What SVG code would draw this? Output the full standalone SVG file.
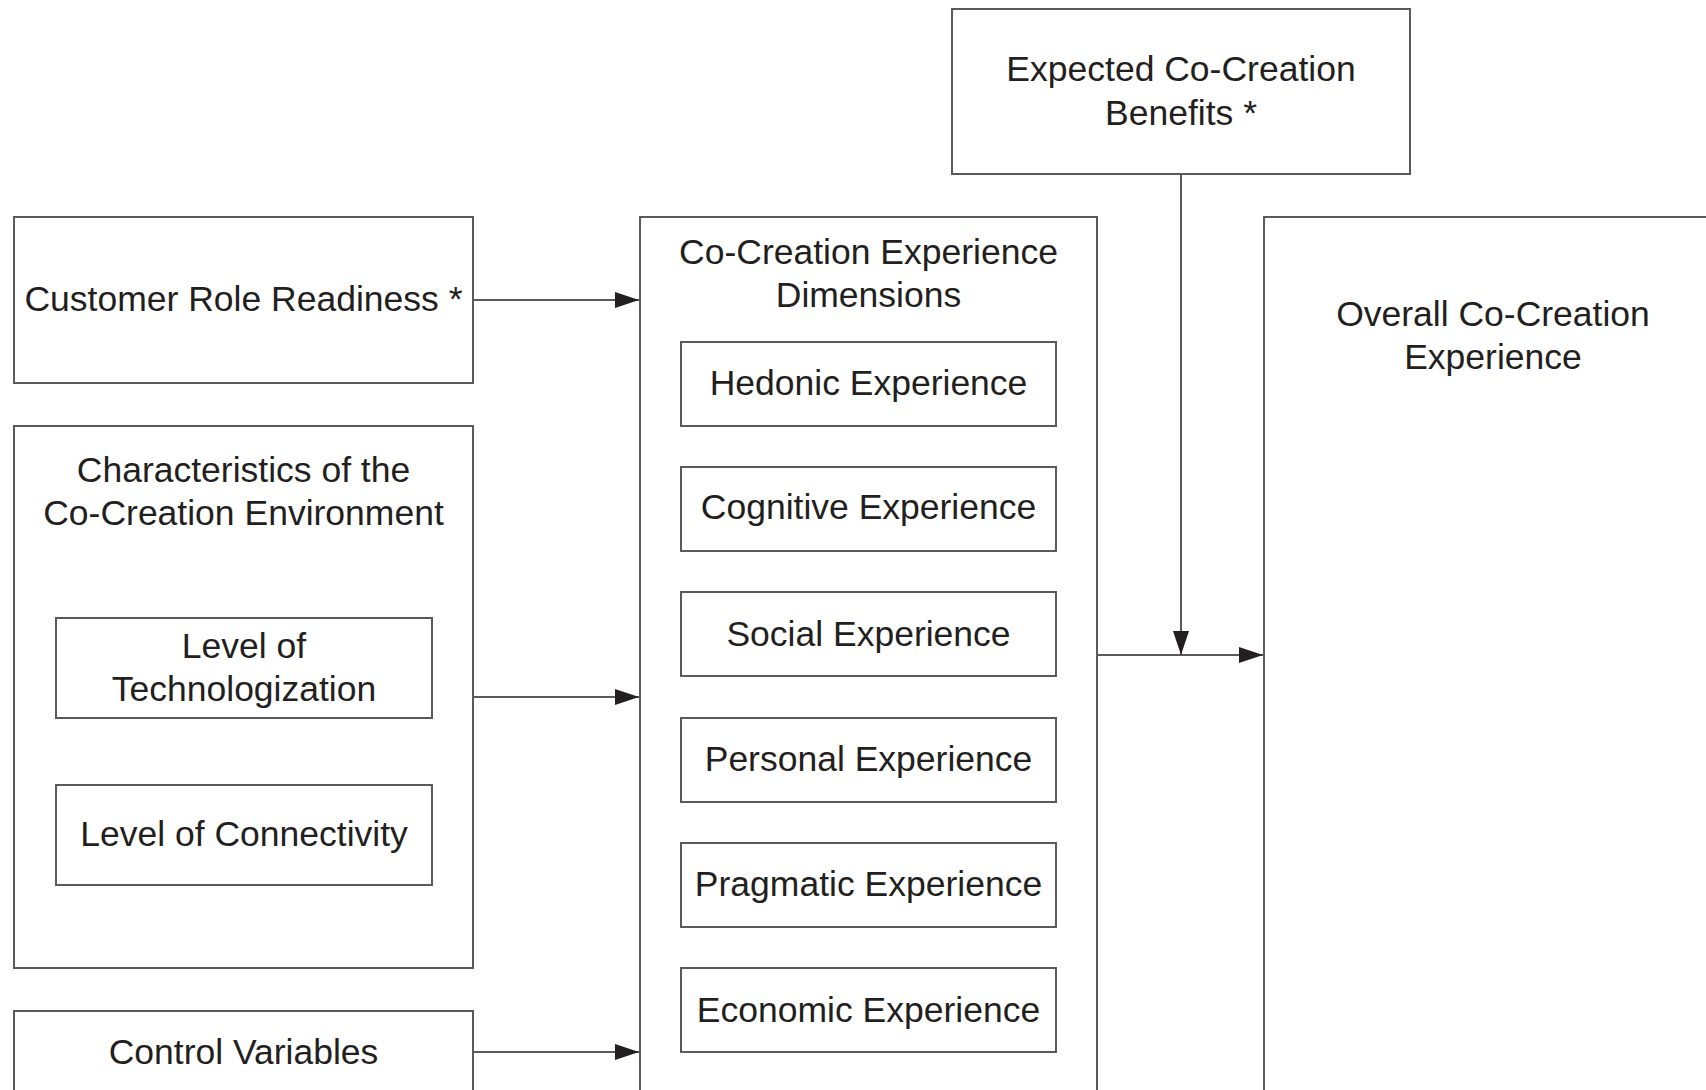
<svg xmlns="http://www.w3.org/2000/svg" width="1706" height="1090" viewBox="0 0 1706 1090">
<style>
.box{fill:#fff;stroke:#5a5a5a;stroke-width:2}
.t{font-family:"Liberation Sans",Arial,Helvetica,sans-serif;font-size:35.5px;fill:#231f20;text-anchor:middle}
.c{fill:none;stroke:#5a5a5a;stroke-width:2}
</style>
<defs>
<marker id="ah" viewBox="0 0 24 16" refX="24" refY="8" markerWidth="24" markerHeight="16" markerUnits="userSpaceOnUse" orient="auto">
<path d="M0,0 L24,8 L0,16 Z" fill="#231f20"/>
</marker>
</defs>
<rect width="1706" height="1090" fill="#fff"/>

<g id="expected-benefits">
<rect class="box" x="952" y="9" width="458" height="165"/>
<text class="t" x="1181" y="81">Expected Co-Creation</text>
<text class="t" x="1181" y="125">Benefits *</text>
</g>

<g id="customer-role-readiness">
<rect class="box" x="14" y="217" width="459" height="166"/>
<text class="t" x="243.5" y="311">Customer Role Readiness *</text>
</g>

<g id="characteristics-environment">
<rect class="box" x="14" y="426" width="459" height="542"/>
<text class="t" x="243.5" y="482">Characteristics of the</text>
<text class="t" x="243.5" y="525">Co-Creation Environment</text>
</g>

<g id="level-technologization">
<rect class="box" x="56" y="618" width="376" height="100"/>
<text class="t" x="244" y="658">Level of</text>
<text class="t" x="244" y="701">Technologization</text>
</g>

<g id="level-connectivity">
<rect class="box" x="56" y="785" width="376" height="100"/>
<text class="t" x="244" y="846">Level of Connectivity</text>
</g>

<g id="control-variables">
<rect class="box" x="14" y="1011" width="459" height="100"/>
<text class="t" x="243.5" y="1064">Control Variables</text>
</g>

<g id="dimensions">
<rect class="box" x="640" y="217" width="457" height="900"/>
<text class="t" x="868.5" y="264">Co-Creation Experience</text>
<text class="t" x="868.5" y="307">Dimensions</text>
</g>

<g id="hedonic">
<rect class="box" x="681" y="342" width="375" height="84"/>
<text class="t" x="868.5" y="395">Hedonic Experience</text>
</g>
<g id="cognitive">
<rect class="box" x="681" y="467" width="375" height="84"/>
<text class="t" x="868.5" y="519">Cognitive Experience</text>
</g>
<g id="social">
<rect class="box" x="681" y="592" width="375" height="84"/>
<text class="t" x="868.5" y="646">Social Experience</text>
</g>
<g id="personal">
<rect class="box" x="681" y="718" width="375" height="84"/>
<text class="t" x="868.5" y="771">Personal Experience</text>
</g>
<g id="pragmatic">
<rect class="box" x="681" y="843" width="375" height="84"/>
<text class="t" x="868.5" y="896">Pragmatic Experience</text>
</g>
<g id="economic">
<rect class="box" x="681" y="968" width="375" height="84"/>
<text class="t" x="868.5" y="1022">Economic Experience</text>
</g>

<g id="overall">
<rect class="box" x="1264" y="217" width="500" height="900"/>
<text class="t" x="1493" y="326">Overall Co-Creation</text>
<text class="t" x="1493" y="369">Experience</text>
</g>

<g id="connectors">
<line class="c" x1="473" y1="300" x2="639" y2="300" marker-end="url(#ah)"/>
<line class="c" x1="473" y1="697" x2="639" y2="697" marker-end="url(#ah)"/>
<line class="c" x1="473" y1="1052" x2="639" y2="1052" marker-end="url(#ah)"/>
<line class="c" x1="1097" y1="655" x2="1263" y2="655" marker-end="url(#ah)"/>
<line class="c" x1="1181" y1="174" x2="1181" y2="655" marker-end="url(#ah)"/>
</g>
</svg>
